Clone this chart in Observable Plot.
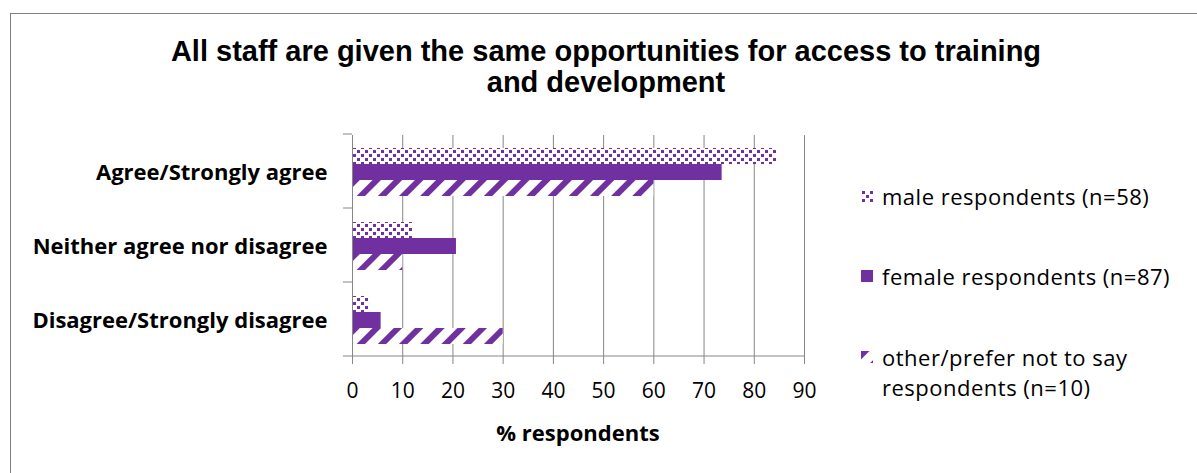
<!DOCTYPE html>
<html>
<head>
<meta charset="utf-8">
<script src="https://cdn.jsdelivr.net/npm/d3@7"></script>
<script src="https://cdn.jsdelivr.net/npm/@observablehq/plot@0.6"></script>
<style>
  html, body { margin: 0; padding: 0; background: #fff; }
  #wrap { position: relative; width: 1197px; height: 473px; overflow: hidden; background: #fff; }
  #border { position: absolute; left: 10px; top: 13px; width: 1300px; height: 600px; border: 1px solid #7f7f7f; box-sizing: border-box; }
  #chart { position: absolute; left: 0; top: 0; }
  #title { position: absolute; left: 106px; width: 1000px; top: 36px; text-align: center;
           font-family: "Liberation Sans", Arial, sans-serif; font-weight: bold; font-size: 29px; line-height: 31px; color: #000; }
  #xlabel { position: absolute; left: 378px; width: 400px; top: 418px; text-align: center;
            font-family: "Open Sans", sans-serif; font-weight: bold; font-size: 22px; line-height: 28px; color: #000; }
  .leg { position: absolute; left: 861px; font-family: "Open Sans", sans-serif; font-size: 22px; letter-spacing: 0.5px; line-height: 30px; color: #000; }
  .leg svg { position: absolute; left: 0; top: 9px; }
  .leg span { position: absolute; left: 21px; top: 0; white-space: nowrap; }
</style>
</head>
<body>
<div id="wrap">
  <div id="border"></div>
  <div id="chart"></div>
  <div id="title"></div>
  <div id="xlabel"></div>
  <div id="legend"></div>
</div>
<script>
const titleLines = ["All staff are given the same opportunities for access to training", "and development"];
const xLabel = "% respondents";
const categories = ["Agree/Strongly agree", "Neither agree nor disagree", "Disagree/Strongly disagree"];
const seriesNames = ["male respondents (n=58)", "female respondents (n=87)", "other/prefer not to say respondents (n=10)"];
const legendLines = [["male respondents (n=58)"], ["female respondents (n=87)"], ["other/prefer not to say", "respondents (n=10)"]];
const maleValues = [84.5, 12.1, 3.4];
const femaleValues = [73.6, 20.7, 5.7];
const otherValues = [60, 10, 30];
const xTicks = [0, 10, 20, 30, 40, 50, 60, 70, 80, 90];

const purple = "#7030A0";
const gridColor = "#868686";
const fills = ["url(#pat-male)", purple, "url(#pat-other)"];

const seriesValues = [maleValues, femaleValues, otherValues];
const rows = [];
categories.forEach((c, ci) => {
  seriesNames.forEach((s, si) => rows.push({category: c, series: s, value: seriesValues[si][ci]}));
});

const chart = Plot.plot({
  width: 1197,
  height: 473,
  marginLeft: 352,
  marginRight: 393,
  marginTop: 134,
  marginBottom: 115,
  style: {fontFamily: "'Open Sans', sans-serif", fontSize: "21px", color: "#000", background: "transparent", overflow: "visible"},
  x: {domain: [0, 90], ticks: xTicks, label: null},
  fy: {domain: categories, padding: 0, label: null},
  y: {domain: seriesNames, paddingInner: 0, paddingOuter: 0.75, axis: null},
  color: {domain: seriesNames, range: fills},
  marks: [
    Plot.gridX(xTicks.slice(1), {stroke: gridColor, strokeOpacity: 1, strokeWidth: 1}),
    Plot.barX(rows, {fy: "category", y: "series", x: "value", fill: "series"}),
    Plot.ruleX([0], {stroke: gridColor, strokeWidth: 1}),
    Plot.axisFy({anchor: "left", tickSize: 0, tickPadding: 25, fontSize: 22, fontWeight: "bold", fill: "#000", label: null}),
    Plot.axisX({ticks: xTicks, tickSize: 7, tickPadding: 19, stroke: gridColor, fill: "#000", fontSize: 21, label: null})
  ]
});

// pattern definitions
const svg = d3.select(chart);
const defs = svg.insert("defs", ":first-child");
const pm = defs.append("pattern").attr("id", "pat-male").attr("patternUnits", "userSpaceOnUse")
  .attr("width", 8).attr("height", 8);
pm.append("rect").attr("width", 8).attr("height", 8).attr("fill", "#fff");
pm.append("rect").attr("x", 1).attr("y", 1).attr("width", 3).attr("height", 3).attr("fill", purple);
pm.append("rect").attr("x", 5).attr("y", 5).attr("width", 3).attr("height", 3).attr("fill", purple);
const po = defs.append("pattern").attr("id", "pat-other").attr("patternUnits", "userSpaceOnUse")
  .attr("width", 15).attr("height", 15).attr("patternTransform", "rotate(45)");
po.append("rect").attr("width", 15).attr("height", 15).attr("fill", "#fff");
po.append("rect").attr("x", 0).attr("width", 6).attr("height", 15).attr("fill", purple);

// category boundary ticks and the horizontal axis line, from the plot's own scales
const fyS = chart.scale("fy");
const xS = chart.scale("x");
const x0 = xS.apply(0);
const xMax = xS.apply(90);
const top0 = Math.min(...fyS.range);
const step = fyS.step;
const g = svg.append("g").attr("stroke", gridColor).attr("stroke-width", 1);
for (let i = 0; i <= categories.length; i++) {
  const yy = top0 + i * step;
  g.append("line").attr("x1", x0 - 9).attr("x2", i === categories.length ? xMax : x0).attr("y1", yy).attr("y2", yy);
}

document.getElementById("chart").appendChild(chart);

document.getElementById("title").innerHTML = titleLines.join("<br>");
document.getElementById("xlabel").textContent = xLabel;

const legendTops = [181, 261, 342];
const legend = document.getElementById("legend");
legendLines.forEach((lines, i) => {
  const d = document.createElement("div");
  d.className = "leg";
  d.style.top = legendTops[i] + "px";
  d.innerHTML = `<svg width="12" height="12"><rect width="12" height="12" fill="${fills[i]}"/></svg><span>${lines.join("<br>")}</span>`;
  legend.appendChild(d);
});
</script>
</body>
</html>
